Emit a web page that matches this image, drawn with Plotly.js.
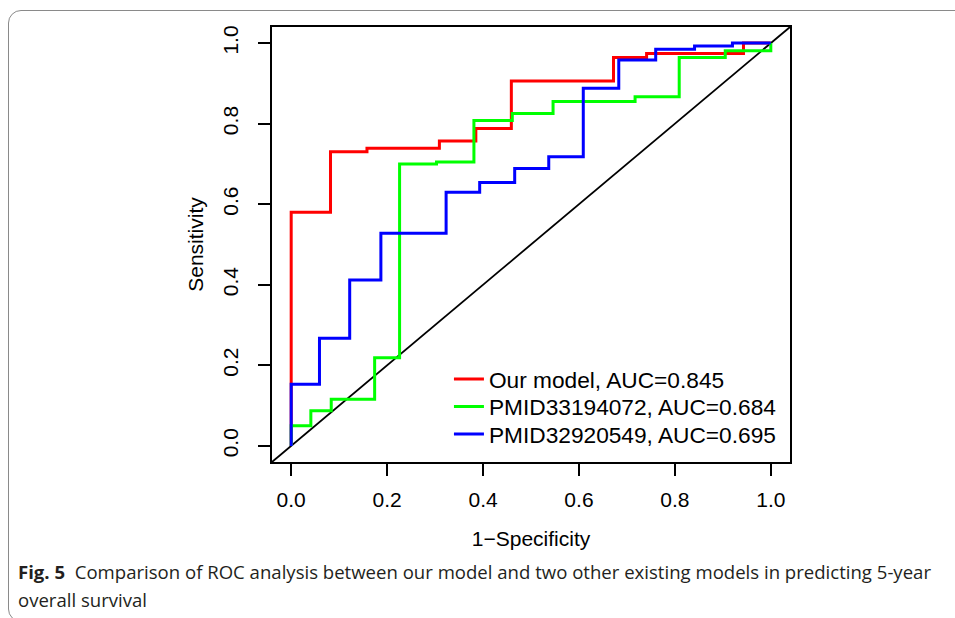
<!DOCTYPE html>
<html>
<head>
<meta charset="utf-8">
<script src="https://cdn.plot.ly/plotly-3.0.1.min.js"></script>
<style>
  html, body { margin:0; padding:0; background:#fff; width:955px; height:618px; overflow:hidden; }
  #frame { position:absolute; left:8px; top:10px; width:1000px; height:612px; border:1.3px solid #8a8a8a; border-radius:13px; box-sizing:border-box; }
  #chart { position:absolute; left:0; top:0; width:955px; height:618px; }
  .cap { position:absolute; left:18px; font-family:'Open Sans', 'Noto Sans', sans-serif; font-size:18px; color:#231f20; white-space:nowrap; transform-origin:left center; }
  #cap1 { top:560px; }
  #cap2 { top:588px; }
</style>
</head>
<body>
<div id="frame"></div>
<div id="chart"></div>
<div class="cap" id="cap1"><b>Fig. 5</b>&nbsp;&nbsp;Comparison of ROC analysis between our model and two other existing models in predicting 5-year</div>
<div class="cap" id="cap2">overall survival</div>
<script>
// ----- data -----
const seriesNames = ["Our model, AUC=0.845", "PMID33194072, AUC=0.684", "PMID32920549, AUC=0.695"];

const ourFpr = [0, 0, 0.082, 0.158, 0.309, 0.385, 0.459, 0.672, 0.741, 0.943, 1.0];
const ourTpr = [0, 0.580, 0.730, 0.739, 0.757, 0.788, 0.906, 0.964, 0.974, 1.0, 1.0];

const pm331Fpr = [0, 0, 0.041, 0.0835, 0.174, 0.226, 0.303, 0.381, 0.461, 0.546, 0.717, 0.809, 0.905, 1.0];
const pm331Tpr = [0, 0.050, 0.087, 0.116, 0.219, 0.700, 0.705, 0.808, 0.825, 0.855, 0.867, 0.964, 0.981, 1.0];

const pm329Fpr = [0, 0, 0.059, 0.122, 0.187, 0.323, 0.393, 0.466, 0.537, 0.609, 0.683, 0.760, 0.841, 0.920, 1.0];
const pm329Tpr = [0, 0.153, 0.267, 0.412, 0.528, 0.630, 0.654, 0.689, 0.718, 0.888, 0.958, 0.985, 0.993, 1.0, 1.0];

const tickVals = [0, 0.2, 0.4, 0.6, 0.8, 1.0];
const tickText = ["0.0", "0.2", "0.4", "0.6", "0.8", "1.0"];
const axisRange = [-0.04, 1.04];

const colors = ["#FF0000", "#00FF00", "#0000FF"];
const fprs = [ourFpr, pm331Fpr, pm329Fpr];
const tprs = [ourTpr, pm331Tpr, pm329Tpr];
const legendIds = ['legend', 'legend2', 'legend3'];
const legendTops = [0.2395, 0.1762, 0.1132];

const traces = seriesNames.map((name, i) => ({
  x: fprs[i], y: tprs[i], name: name, type: 'scatter', mode: 'lines',
  legend: legendIds[i],
  line: { color: colors[i], width: 3, shape: 'hv' }
}));

const axisFont = { family: 'Liberation Sans, Arial, sans-serif', size: 21, color: '#000' };
const legendFont = { family: 'Liberation Sans, Arial, sans-serif', size: 22.7, color: '#000' };

const layout = {
  width: 955, height: 618,
  margin: { l: 272, r: 165, t: 27, b: 156, pad: 0 },
  paper_bgcolor: 'rgba(0,0,0,0)', plot_bgcolor: 'rgba(0,0,0,0)',
  font: axisFont,
  showlegend: true,
  xaxis: {
    range: axisRange, tickvals: tickVals, ticktext: tickText,
    showgrid: false, zeroline: false, showline: true, mirror: true, linecolor: '#000', linewidth: 2,
    ticks: 'outside', ticklen: 12, tickwidth: 1.8, tickcolor: '#000', ticklabelstandoff: 6,
    tickfont: axisFont,
    title: { text: '1\u2212Specificity', font: axisFont, standoff: 21 }
  },
  yaxis: {
    range: axisRange, tickvals: tickVals, ticktext: tickText, tickangle: -90,
    showgrid: false, zeroline: false, showline: true, mirror: true, linecolor: '#000', linewidth: 2,
    ticks: 'outside', ticklen: 12, tickwidth: 1.8, tickcolor: '#000', ticklabelstandoff: 12,
    tickfont: axisFont,
    title: { text: 'Sensitivity', font: axisFont, standoff: 9 }
  },
  shapes: [{ type: 'line', xref: 'x', yref: 'y', x0: axisRange[0], y0: axisRange[0], x1: axisRange[1], y1: axisRange[1],
             line: { color: '#000', width: 1.8 }, layer: 'below' }]
};
legendIds.forEach((id, i) => {
  layout[id] = { x: 0.3416, y: legendTops[i], xanchor: 'left', yanchor: 'top', bgcolor: 'rgba(0,0,0,0)', font: legendFont };
});

Plotly.newPlot('chart', traces, layout, { displayModeBar: false, staticPlot: true }).then(() => {
  const c1 = document.getElementById('cap1');
  const w = c1.getBoundingClientRect().width;
  const s = 913 / w;
  c1.style.transform = 'scaleX(' + s + ')';
  document.getElementById('cap2').style.transform = 'scaleX(' + s + ')';
});
</script>
</body>
</html>
